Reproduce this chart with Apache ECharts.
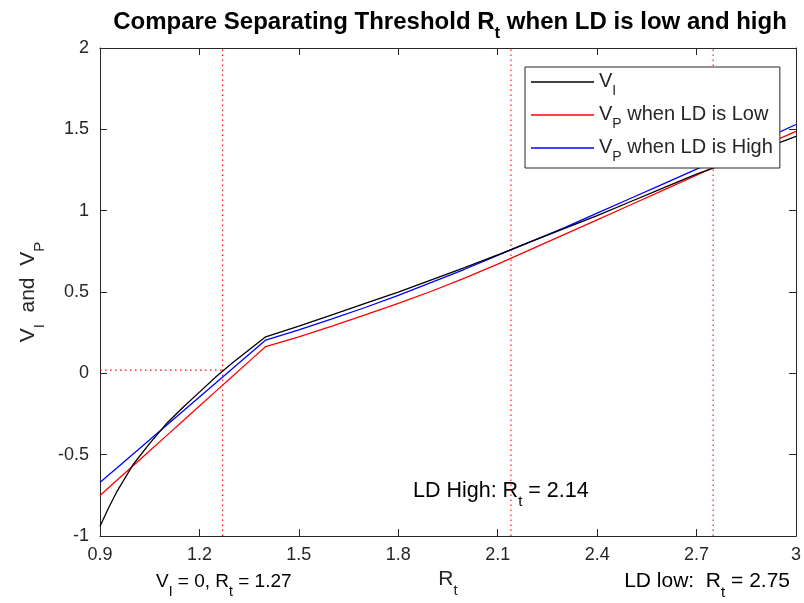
<!DOCTYPE html>
<html>
<head>
<meta charset="utf-8">
<script src="https://cdn.jsdelivr.net/npm/echarts@6/dist/echarts.min.js"></script>
<style>html,body{margin:0;padding:0;background:#fff;}#c{width:804px;height:603px;}</style>
</head>
<body>
<div id="c"></div>
<script>
// ---- data ----
const xVals = [0.9,0.925,0.95,1.0,1.05,1.1,1.15,1.2,1.25,1.3,1.35,1.4,1.5,1.6,1.7,1.8,1.9,2.0,2.1,2.2,2.3,2.4,2.5,2.6,2.7,2.8,2.9,3.0];
const vI     = [-0.94,-0.83,-0.73,-0.56,-0.43,-0.31,-0.21,-0.115,-0.02,0.065,0.145,0.225,0.29,0.36,0.43,0.50,0.575,0.65,0.728,0.81,0.89,0.97,1.055,1.14,1.225,1.30,1.38,1.457];
const vPLow  = [-0.75,-0.704,-0.658,-0.567,-0.475,-0.384,-0.292,-0.20,-0.109,-0.018,0.074,0.165,0.225,0.29,0.36,0.43,0.505,0.585,0.672,0.762,0.853,0.944,1.035,1.126,1.218,1.309,1.399,1.488];
const vPHigh = [-0.67,-0.626,-0.583,-0.495,-0.408,-0.32,-0.233,-0.145,-0.058,0.03,0.118,0.205,0.268,0.335,0.405,0.48,0.56,0.64,0.725,0.81,0.895,0.985,1.075,1.165,1.255,1.345,1.437,1.53];
const thresholds = [1.27, 2.14, 2.75];   // V_I=0, LD High, LD low
const zeroLevel = 0.02;                   // V_I at R_t = 1.27
const xTicks = {min: 0.9, max: 3, interval: 0.3};
const yTicks = {min: -1, max: 2, interval: 0.5};

const FONT = '"Liberation Sans", Arial, sans-serif';
const TXT = '#262626';
function richStyles(fs, sfs, pad, bold) {
  return {
    n: {fontSize: fs, fontFamily: FONT, color: bold ? '#000' : TXT, fontWeight: bold ? 'bold' : 'normal', verticalAlign: 'top', lineHeight: fs + 2},
    s: {fontSize: sfs, fontFamily: FONT, color: bold ? '#000' : TXT, fontWeight: bold ? 'bold' : 'normal', verticalAlign: 'top', lineHeight: sfs + 2, padding: [pad, 0, 0, 0]}
  };
}
const pair = a => xVals.map((x, i) => [x, a[i]]);
const legendText = {
  'VI': '{n|V}{s|I}',
  'VPlow': '{n|V}{s|P}{n| when LD is Low}',
  'VPhigh': '{n|V}{s|P}{n| when LD is High}'
};
const dotted = {color: '#ff0000', type: [1.5, 3.5], width: 1.1};

const chart = echarts.init(document.getElementById('c'), null, {renderer: 'canvas'});
const axisCommon = {
  axisLine: {show: true, onZero: false, lineStyle: {color: TXT, width: 1}},
  axisTick: {show: true, inside: true, length: 7, lineStyle: {color: TXT, width: 1}},
  splitLine: {show: false}
};
const lineStyleOf = c => ({color: c, width: 1.3});
const guideSeries = thresholds.map(t => ({
  type: 'line', data: [[t, yTicks.min], [t, yTicks.max]], symbol: 'none', silent: true,
  lineStyle: dotted, itemStyle: {color: '#ff0000'}, z: 1
})).concat([{
  type: 'line', data: [[xTicks.min, zeroLevel], [thresholds[0], zeroLevel]], symbol: 'none', silent: true,
  lineStyle: dotted, itemStyle: {color: '#ff0000'}, z: 1
}]);
chart.setOption({
  animation: false,
  backgroundColor: '#fff',
  grid: {left: 100, right: 4, top: 48, bottom: 65, containLabel: false},
  xAxis: [
    Object.assign({type: 'value', position: 'bottom', min: xTicks.min, max: xTicks.max, interval: xTicks.interval,
      axisLabel: {fontSize: 18, color: TXT, fontFamily: FONT, margin: 10},
      name: '{n|R}{s|t}', nameLocation: 'middle', nameGap: 27,
      nameTextStyle: {rich: richStyles(21, 15, 14)}}, axisCommon),
    Object.assign({type: 'value', position: 'top', min: xTicks.min, max: xTicks.max, interval: xTicks.interval,
      axisLabel: {show: false}}, axisCommon)
  ],
  yAxis: [
    Object.assign({type: 'value', position: 'left', min: yTicks.min, max: yTicks.max, interval: yTicks.interval,
      axisLabel: {fontSize: 18, color: TXT, fontFamily: FONT, margin: 11},
      name: '{n|V}{s|I}{n|  and  V}{s|P}', nameLocation: 'middle', nameGap: 56, nameRotate: 90,
      nameTextStyle: {rich: richStyles(21, 15, 14)}}, axisCommon),
    Object.assign({type: 'value', position: 'right', min: yTicks.min, max: yTicks.max, interval: yTicks.interval,
      axisLabel: {show: false}}, axisCommon)
  ],
  legend: {
    orient: 'vertical', left: 525, top: 67,
    data: ['VI', 'VPlow', 'VPhigh'],
    formatter: n => legendText[n],
    icon: 'rect',
    itemWidth: 63, itemHeight: 1.3, itemGap: 6,
    padding: [4, 7, 4, 6],
    borderColor: TXT, borderWidth: 1, backgroundColor: '#fff',
    textStyle: {fontSize: 20, fontFamily: FONT, color: TXT, rich: richStyles(20, 14, 13)}
  },
  series: guideSeries.concat([
    {name: 'VI', type: 'line', data: pair(vI), symbol: 'none', lineStyle: lineStyleOf('#000'), itemStyle: {color: '#000'}, z: 3},
    {name: 'VPlow', type: 'line', data: pair(vPLow), symbol: 'none', lineStyle: lineStyleOf('#ff0000'), itemStyle: {color: '#ff0000'}, z: 2},
    {name: 'VPhigh', type: 'line', data: pair(vPHigh), symbol: 'none', lineStyle: lineStyleOf('#0000ff'), itemStyle: {color: '#0000ff'}, z: 2}
  ]),
  graphic: [
    {type: 'text', x: 450, y: 10, style: {text: '{n|Compare Separating Threshold R}{s|t}{n| when LD is low and high}', rich: richStyles(24, 17, 15, true), align: 'center', verticalAlign: 'top'}},
    {type: 'text', x: 156, y: 572, style: {text: '{n|V}{s|I}{n| = 0, R}{s|t}{n| = ' + thresholds[0] + '}', rich: richStyles(19, 14, 13), align: 'left', verticalAlign: 'top'}},
    {type: 'text', x: 790, y: 571, style: {text: '{n|LD low:  R}{s|t}{n| = ' + thresholds[2] + '}', rich: richStyles(21, 15, 14), align: 'right', verticalAlign: 'top'}},
    {type: 'text', x: 413, y: 480, style: {text: '{n|LD High: R}{s|t}{n| = ' + thresholds[1] + '}', rich: richStyles(21.5, 15, 14), align: 'left', verticalAlign: 'top'}}
  ]
});
</script>
</body>
</html>
